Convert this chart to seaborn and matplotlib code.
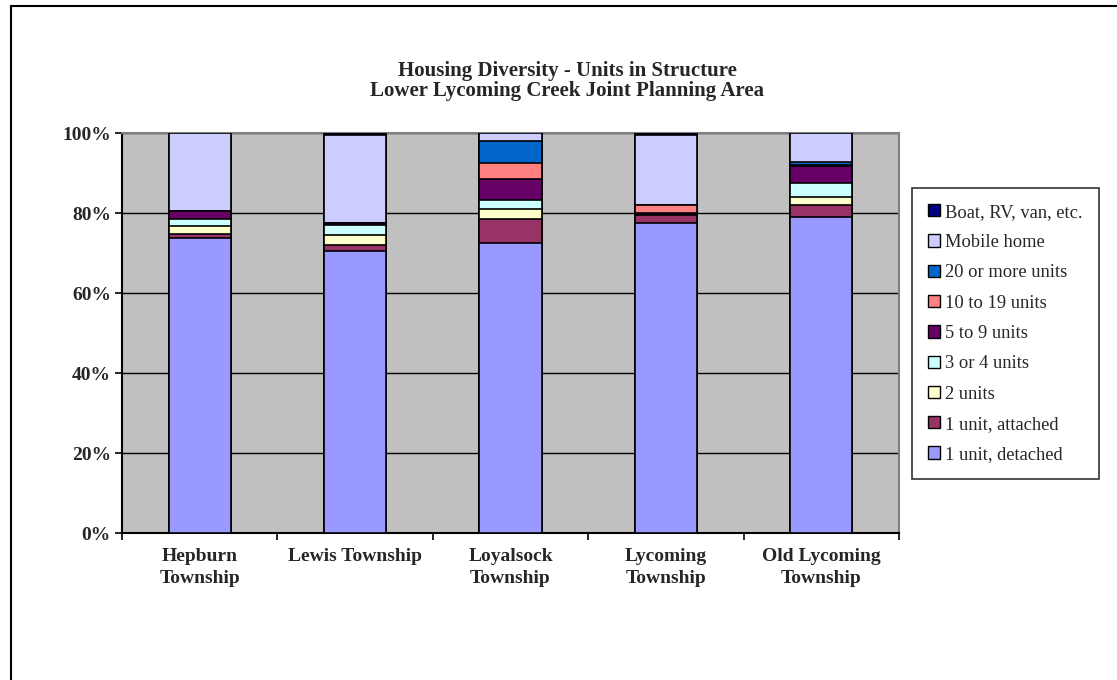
import matplotlib
matplotlib.use("Agg")
import matplotlib.pyplot as plt
from matplotlib.patches import Rectangle, Patch
import numpy as np
import pandas as pd
import seaborn as sns

# Share of housing units by structure type (%)
townships = ["Hepburn\nTownship", "Lewis Township", "Loyalsock\nTownship",
             "Lycoming\nTownship", "Old Lycoming\nTownship"]
unit_types = ["1 unit, detached", "1 unit, attached", "2 units", "3 or 4 units",
              "5 to 9 units", "10 to 19 units", "20 or more units",
              "Mobile home", "Boat, RV, van, etc."]

detached_1 = [73.7, 70.5, 72.4, 77.6, 79.0]
attached_1 = [1.0, 1.5, 6.1, 1.9, 2.9]
units_2 = [2.0, 2.5, 2.5, 0.0, 2.0]
units_3_4 = [1.8, 2.5, 2.3, 0.0, 3.7]
units_5_9 = [1.9, 0.6, 5.2, 0.5, 4.2]
units_10_19 = [0.0, 0.0, 3.9, 1.9, 0.2]
units_20_plus = [0.0, 0.0, 5.7, 0.0, 0.8]
mobile_home = [19.6, 21.8, 1.9, 17.5, 7.2]
boat_rv = [0.0, 0.6, 0.0, 0.6, 0.0]

colors = ["#9999FF", "#993366", "#FFFFCC", "#CCFFFF", "#660066",
          "#FF8080", "#0066CC", "#CCCCFF", "#000080"]

series = [detached_1, attached_1, units_2, units_3_4, units_5_9,
          units_10_19, units_20_plus, mobile_home, boat_rv]
df = pd.DataFrame(np.array(series).T, columns=unit_types)
df.insert(0, "Township", townships)
shares = df[unit_types]
df[unit_types] = shares.div(shares.sum(axis=1), axis=0) * 100
cum = df[unit_types].cumsum(axis=1)

sns.set_style("white")
plt.rcParams["font.family"] = ["Liberation Serif", "DejaVu Serif"]

fig = plt.figure(figsize=(11.17, 6.8), dpi=100)
ax = fig.add_axes([122 / 1117, 147 / 680, 777 / 1117, 400 / 680])
ax.set_facecolor("#C0C0C0")

# Stacked bars: draw cumulative totals from the top segment down
for name, col in reversed(list(zip(unit_types, colors))):
    plot_df = pd.DataFrame({"Township": townships, "value": cum[name].values})
    sns.barplot(data=plot_df, x="Township", y="value", color=col, width=0.4,
                edgecolor="black", linewidth=1.2, saturation=1, ax=ax,
                order=townships, zorder=3)

ax.set_ylim(0, 100)
ax.set_xlim(-0.5, len(townships) - 0.5)
ax.set_yticks([0, 20, 40, 60, 80, 100])
ax.set_yticklabels([f"{v}%" for v in [0, 20, 40, 60, 80, 100]],
                   fontsize=14, fontweight="bold")
ax.yaxis.grid(True, color="black", linewidth=1, zorder=1)
ax.set_axisbelow(True)
ax.tick_params(axis="y", which="major", direction="out", length=5,
               width=1.2, color="black", left=True, pad=3)

ax.set_xticks(range(len(townships)))
ax.set_xticklabels(townships, fontsize=14, fontweight="bold", linespacing=1.35)
ax.set_xticks(np.arange(-0.5, len(townships)), minor=True)
ax.tick_params(axis="x", which="major", length=0, pad=11)
ax.tick_params(axis="x", which="minor", direction="out", length=5,
               width=1.2, color="black", bottom=True)
ax.set_xlabel("")
ax.set_ylabel("")

for side in ["top", "right"]:
    ax.spines[side].set_color("#808080")
    ax.spines[side].set_linewidth(1.5)
for side in ["left", "bottom"]:
    ax.spines[side].set_color("black")
    ax.spines[side].set_linewidth(1.5)

fig.text(567 / 1117, 1 - 71 / 680, "Housing Diversity - Units in Structure",
         ha="center", va="center", fontsize=15, fontweight="bold")
fig.text(567 / 1117, 1 - 91 / 680, "Lower Lycoming Creek Joint Planning Area",
         ha="center", va="center", fontsize=15, fontweight="bold")

handles = [Patch(facecolor=c, edgecolor="black", linewidth=1, label=n)
           for n, c in zip(unit_types, colors)]
leg = fig.legend(handles=handles[::-1], loc="upper left",
                 bbox_to_anchor=(912 / 1117, 1 - 188 / 680), fontsize=13.3,
                 frameon=True, fancybox=False, edgecolor="black",
                 handlelength=0.65, handleheight=0.65, handletextpad=0.3,
                 labelspacing=0.72, borderpad=0.85, borderaxespad=0)
leg.get_frame().set_linewidth(1.2)

# Chart-area border
fig.patches.append(Rectangle((11 / 1117, -0.1), 1.2, 1 - 6 / 680 + 0.1,
                             transform=fig.transFigure, fill=False,
                             edgecolor="black", linewidth=1.5))

fig.savefig("out.png", dpi=100)
